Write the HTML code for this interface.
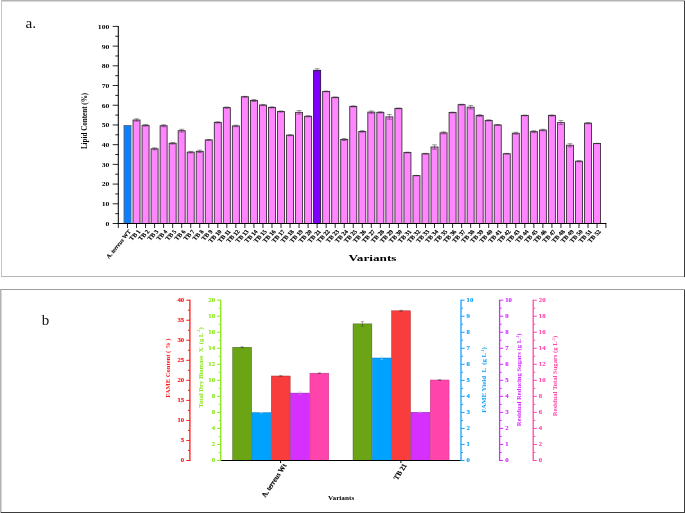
<!DOCTYPE html>
<html><head><meta charset="utf-8"><title>chart</title>
<style>html,body{margin:0;padding:0;background:#fff;}body{width:685px;height:513px;overflow:hidden;font-family:"Liberation Serif",serif;}svg{display:block;will-change:transform;}text{font-family:"Liberation Serif",serif;}</style>
</head><body>
<svg width="685" height="513" viewBox="0 0 685 513">
<rect x="0" y="0" width="685" height="513" fill="#ffffff"/>
<g shape-rendering="crispEdges">
<rect x="1" y="0" width="684" height="1.5" fill="#b2b2b2" shape-rendering="auto"/>
<rect x="1" y="0" width="1" height="277" fill="#c4c4c4"/>
<rect x="1" y="276" width="683" height="1" fill="#b4b4b4"/>
<rect x="684" y="1" width="1" height="276" fill="#3c3c3c"/>
<rect x="0" y="289" width="685" height="1" fill="#9c9c9c"/>
<rect x="0" y="289" width="1.5" height="224" fill="#b2b2b2" shape-rendering="auto"/>
<rect x="684" y="290" width="1" height="223" fill="#3c3c3c"/>
<rect x="1" y="512" width="684" height="1" fill="#3c3c3c"/>
</g>
<text x="25.5" y="28" font-size="15.2" fill="#111">a.</text>
<text x="41.7" y="325" font-size="15" fill="#111">b</text>
<g id="top">
<rect x="124.00" y="125.54" width="7.00" height="97.96" fill="#0a7fff" stroke="#5a6a7a" stroke-width="0.9"/>
<rect x="133.03" y="120.02" width="7.00" height="103.48" fill="#ff86ff" stroke="#3a2e3a" stroke-width="0.9"/>
<path d="M136.53 118.84V121.21M134.13 118.84H138.93M134.13 121.21H138.93" stroke="#333" stroke-width="0.5" fill="none"/>
<rect x="142.06" y="125.34" width="7.00" height="98.16" fill="#ff86ff" stroke="#3a2e3a" stroke-width="0.9"/>
<path d="M145.56 124.56V126.13M143.16 124.56H147.96M143.16 126.13H147.96" stroke="#333" stroke-width="0.5" fill="none"/>
<rect x="151.09" y="148.80" width="7.00" height="74.70" fill="#ff86ff" stroke="#3a2e3a" stroke-width="0.9"/>
<path d="M154.59 147.81V149.78M152.19 147.81H156.99M152.19 149.78H156.99" stroke="#333" stroke-width="0.5" fill="none"/>
<rect x="160.12" y="125.74" width="7.00" height="97.76" fill="#ff86ff" stroke="#3a2e3a" stroke-width="0.9"/>
<path d="M163.62 124.75V126.72M161.22 124.75H166.02M161.22 126.72H166.02" stroke="#333" stroke-width="0.5" fill="none"/>
<rect x="169.15" y="143.28" width="7.00" height="80.22" fill="#ff86ff" stroke="#3a2e3a" stroke-width="0.9"/>
<path d="M172.65 142.49V144.07M170.25 142.49H175.05M170.25 144.07H175.05" stroke="#333" stroke-width="0.5" fill="none"/>
<rect x="178.18" y="130.67" width="7.00" height="92.83" fill="#ff86ff" stroke="#3a2e3a" stroke-width="0.9"/>
<path d="M181.68 129.29V132.05M179.28 129.29H184.08M179.28 132.05H184.08" stroke="#333" stroke-width="0.5" fill="none"/>
<rect x="187.21" y="152.15" width="7.00" height="71.35" fill="#ff86ff" stroke="#3a2e3a" stroke-width="0.9"/>
<path d="M190.71 151.36V152.94M188.31 151.36H193.11M188.31 152.94H193.11" stroke="#333" stroke-width="0.5" fill="none"/>
<rect x="196.24" y="151.36" width="7.00" height="72.14" fill="#ff86ff" stroke="#3a2e3a" stroke-width="0.9"/>
<path d="M199.74 150.18V152.54M197.34 150.18H202.14M197.34 152.54H202.14" stroke="#333" stroke-width="0.5" fill="none"/>
<rect x="205.27" y="139.93" width="7.00" height="83.57" fill="#ff86ff" stroke="#3a2e3a" stroke-width="0.9"/>
<path d="M208.77 139.54V140.32M206.37 139.54H211.17M206.37 140.32H211.17" stroke="#333" stroke-width="0.5" fill="none"/>
<rect x="214.30" y="122.39" width="7.00" height="101.11" fill="#ff86ff" stroke="#3a2e3a" stroke-width="0.9"/>
<path d="M217.80 121.80V122.98M215.40 121.80H220.20M215.40 122.98H220.20" stroke="#333" stroke-width="0.5" fill="none"/>
<rect x="223.33" y="107.61" width="7.00" height="115.89" fill="#ff86ff" stroke="#3a2e3a" stroke-width="0.9"/>
<path d="M226.83 107.01V108.20M224.43 107.01H229.23M224.43 108.20H229.23" stroke="#333" stroke-width="0.5" fill="none"/>
<rect x="232.36" y="125.94" width="7.00" height="97.56" fill="#ff86ff" stroke="#3a2e3a" stroke-width="0.9"/>
<path d="M235.86 125.15V126.72M233.46 125.15H238.26M233.46 126.72H238.26" stroke="#333" stroke-width="0.5" fill="none"/>
<rect x="241.39" y="96.76" width="7.00" height="126.74" fill="#ff86ff" stroke="#3a2e3a" stroke-width="0.9"/>
<path d="M244.89 96.37V97.16M242.49 96.37H247.29M242.49 97.16H247.29" stroke="#333" stroke-width="0.5" fill="none"/>
<rect x="250.42" y="100.51" width="7.00" height="122.99" fill="#ff86ff" stroke="#3a2e3a" stroke-width="0.9"/>
<path d="M253.92 99.52V101.50M251.52 99.52H256.32M251.52 101.50H256.32" stroke="#333" stroke-width="0.5" fill="none"/>
<rect x="259.45" y="105.04" width="7.00" height="118.46" fill="#ff86ff" stroke="#3a2e3a" stroke-width="0.9"/>
<path d="M262.95 104.45V105.63M260.55 104.45H265.35M260.55 105.63H265.35" stroke="#333" stroke-width="0.5" fill="none"/>
<rect x="268.48" y="107.41" width="7.00" height="116.09" fill="#ff86ff" stroke="#3a2e3a" stroke-width="0.9"/>
<path d="M271.98 106.82V108.00M269.58 106.82H274.38M269.58 108.00H274.38" stroke="#333" stroke-width="0.5" fill="none"/>
<rect x="277.51" y="111.55" width="7.00" height="111.95" fill="#ff86ff" stroke="#3a2e3a" stroke-width="0.9"/>
<path d="M281.01 110.96V112.14M278.61 110.96H283.41M278.61 112.14H283.41" stroke="#333" stroke-width="0.5" fill="none"/>
<rect x="286.54" y="135.20" width="7.00" height="88.30" fill="#ff86ff" stroke="#3a2e3a" stroke-width="0.9"/>
<path d="M290.04 134.61V135.79M287.64 134.61H292.44M287.64 135.79H292.44" stroke="#333" stroke-width="0.5" fill="none"/>
<rect x="295.57" y="112.34" width="7.00" height="111.16" fill="#ff86ff" stroke="#3a2e3a" stroke-width="0.9"/>
<path d="M299.07 110.56V114.11M296.67 110.56H301.47M296.67 114.11H301.47" stroke="#333" stroke-width="0.5" fill="none"/>
<rect x="304.60" y="116.28" width="7.00" height="107.22" fill="#ff86ff" stroke="#3a2e3a" stroke-width="0.9"/>
<path d="M308.10 115.69V116.87M305.70 115.69H310.50M305.70 116.87H310.50" stroke="#333" stroke-width="0.5" fill="none"/>
<rect x="313.63" y="70.35" width="7.00" height="153.15" fill="#7f00ff" stroke="#2a1040" stroke-width="0.9"/>
<path d="M317.13 68.78V71.93M314.73 68.78H319.53M314.73 71.93H319.53" stroke="#333" stroke-width="0.5" fill="none"/>
<rect x="322.66" y="91.44" width="7.00" height="132.06" fill="#ff86ff" stroke="#3a2e3a" stroke-width="0.9"/>
<path d="M326.16 91.05V91.84M323.76 91.05H328.56M323.76 91.84H328.56" stroke="#333" stroke-width="0.5" fill="none"/>
<rect x="331.69" y="97.36" width="7.00" height="126.14" fill="#ff86ff" stroke="#3a2e3a" stroke-width="0.9"/>
<path d="M335.19 96.96V97.75M332.79 96.96H337.59M332.79 97.75H337.59" stroke="#333" stroke-width="0.5" fill="none"/>
<rect x="340.72" y="139.54" width="7.00" height="83.96" fill="#ff86ff" stroke="#3a2e3a" stroke-width="0.9"/>
<path d="M344.22 138.55V140.52M341.82 138.55H346.62M341.82 140.52H346.62" stroke="#333" stroke-width="0.5" fill="none"/>
<rect x="349.75" y="106.42" width="7.00" height="117.08" fill="#ff86ff" stroke="#3a2e3a" stroke-width="0.9"/>
<path d="M353.25 105.83V107.01M350.85 105.83H355.65M350.85 107.01H355.65" stroke="#333" stroke-width="0.5" fill="none"/>
<rect x="358.78" y="131.45" width="7.00" height="92.05" fill="#ff86ff" stroke="#3a2e3a" stroke-width="0.9"/>
<path d="M362.28 130.67V132.24M359.88 130.67H364.68M359.88 132.24H364.68" stroke="#333" stroke-width="0.5" fill="none"/>
<rect x="367.81" y="112.14" width="7.00" height="111.36" fill="#ff86ff" stroke="#3a2e3a" stroke-width="0.9"/>
<path d="M371.31 110.96V113.32M368.91 110.96H373.71M368.91 113.32H373.71" stroke="#333" stroke-width="0.5" fill="none"/>
<rect x="376.84" y="112.34" width="7.00" height="111.16" fill="#ff86ff" stroke="#3a2e3a" stroke-width="0.9"/>
<path d="M380.34 111.74V112.93M377.94 111.74H382.74M377.94 112.93H382.74" stroke="#333" stroke-width="0.5" fill="none"/>
<rect x="385.87" y="116.87" width="7.00" height="106.63" fill="#ff86ff" stroke="#3a2e3a" stroke-width="0.9"/>
<path d="M389.37 114.50V119.23M386.97 114.50H391.77M386.97 119.23H391.77" stroke="#333" stroke-width="0.5" fill="none"/>
<rect x="394.90" y="108.39" width="7.00" height="115.11" fill="#ff86ff" stroke="#3a2e3a" stroke-width="0.9"/>
<path d="M398.40 108.00V108.79M396.00 108.00H400.80M396.00 108.79H400.80" stroke="#333" stroke-width="0.5" fill="none"/>
<rect x="403.93" y="152.54" width="7.00" height="70.96" fill="#ff86ff" stroke="#3a2e3a" stroke-width="0.9"/>
<path d="M407.43 152.15V152.94M405.03 152.15H409.83M405.03 152.94H409.83" stroke="#333" stroke-width="0.5" fill="none"/>
<rect x="412.96" y="175.60" width="7.00" height="47.90" fill="#ff86ff" stroke="#3a2e3a" stroke-width="0.9"/>
<path d="M416.46 175.41V175.80M414.06 175.41H418.86M414.06 175.80H418.86" stroke="#333" stroke-width="0.5" fill="none"/>
<rect x="421.99" y="153.73" width="7.00" height="69.77" fill="#ff86ff" stroke="#3a2e3a" stroke-width="0.9"/>
<path d="M425.49 153.33V154.12M423.09 153.33H427.89M423.09 154.12H427.89" stroke="#333" stroke-width="0.5" fill="none"/>
<rect x="431.02" y="147.03" width="7.00" height="76.47" fill="#ff86ff" stroke="#3a2e3a" stroke-width="0.9"/>
<path d="M434.52 144.86V149.19M432.12 144.86H436.92M432.12 149.19H436.92" stroke="#333" stroke-width="0.5" fill="none"/>
<rect x="440.05" y="132.83" width="7.00" height="90.67" fill="#ff86ff" stroke="#3a2e3a" stroke-width="0.9"/>
<path d="M443.55 131.85V133.82M441.15 131.85H445.95M441.15 133.82H445.95" stroke="#333" stroke-width="0.5" fill="none"/>
<rect x="449.08" y="112.53" width="7.00" height="110.97" fill="#ff86ff" stroke="#3a2e3a" stroke-width="0.9"/>
<path d="M452.58 112.14V112.93M450.18 112.14H454.98M450.18 112.93H454.98" stroke="#333" stroke-width="0.5" fill="none"/>
<rect x="458.11" y="104.65" width="7.00" height="118.85" fill="#ff86ff" stroke="#3a2e3a" stroke-width="0.9"/>
<path d="M461.61 104.25V105.04M459.21 104.25H464.01M459.21 105.04H464.01" stroke="#333" stroke-width="0.5" fill="none"/>
<rect x="467.14" y="107.21" width="7.00" height="116.29" fill="#ff86ff" stroke="#3a2e3a" stroke-width="0.9"/>
<path d="M470.64 105.44V108.98M468.24 105.44H473.04M468.24 108.98H473.04" stroke="#333" stroke-width="0.5" fill="none"/>
<rect x="476.17" y="115.49" width="7.00" height="108.01" fill="#ff86ff" stroke="#3a2e3a" stroke-width="0.9"/>
<path d="M479.67 114.70V116.28M477.27 114.70H482.07M477.27 116.28H482.07" stroke="#333" stroke-width="0.5" fill="none"/>
<rect x="485.20" y="120.42" width="7.00" height="103.08" fill="#ff86ff" stroke="#3a2e3a" stroke-width="0.9"/>
<path d="M488.70 119.83V121.01M486.30 119.83H491.10M486.30 121.01H491.10" stroke="#333" stroke-width="0.5" fill="none"/>
<rect x="494.23" y="124.95" width="7.00" height="98.55" fill="#ff86ff" stroke="#3a2e3a" stroke-width="0.9"/>
<path d="M497.73 124.56V125.34M495.33 124.56H500.13M495.33 125.34H500.13" stroke="#333" stroke-width="0.5" fill="none"/>
<rect x="503.26" y="153.73" width="7.00" height="69.77" fill="#ff86ff" stroke="#3a2e3a" stroke-width="0.9"/>
<path d="M506.76 153.33V154.12M504.36 153.33H509.16M504.36 154.12H509.16" stroke="#333" stroke-width="0.5" fill="none"/>
<rect x="512.29" y="133.23" width="7.00" height="90.27" fill="#ff86ff" stroke="#3a2e3a" stroke-width="0.9"/>
<path d="M515.79 132.24V134.21M513.39 132.24H518.19M513.39 134.21H518.19" stroke="#333" stroke-width="0.5" fill="none"/>
<rect x="521.32" y="115.49" width="7.00" height="108.01" fill="#ff86ff" stroke="#3a2e3a" stroke-width="0.9"/>
<path d="M524.82 115.09V115.88M522.42 115.09H527.22M522.42 115.88H527.22" stroke="#333" stroke-width="0.5" fill="none"/>
<rect x="530.35" y="131.65" width="7.00" height="91.85" fill="#ff86ff" stroke="#3a2e3a" stroke-width="0.9"/>
<path d="M533.85 130.67V132.64M531.45 130.67H536.25M531.45 132.64H536.25" stroke="#333" stroke-width="0.5" fill="none"/>
<rect x="539.38" y="130.07" width="7.00" height="93.43" fill="#ff86ff" stroke="#3a2e3a" stroke-width="0.9"/>
<path d="M542.88 129.29V130.86M540.48 129.29H545.28M540.48 130.86H545.28" stroke="#333" stroke-width="0.5" fill="none"/>
<rect x="548.41" y="115.49" width="7.00" height="108.01" fill="#ff86ff" stroke="#3a2e3a" stroke-width="0.9"/>
<path d="M551.91 114.90V116.08M549.51 114.90H554.31M549.51 116.08H554.31" stroke="#333" stroke-width="0.5" fill="none"/>
<rect x="557.44" y="122.58" width="7.00" height="100.92" fill="#ff86ff" stroke="#3a2e3a" stroke-width="0.9"/>
<path d="M560.94 120.61V124.56M558.54 120.61H563.34M558.54 124.56H563.34" stroke="#333" stroke-width="0.5" fill="none"/>
<rect x="566.47" y="145.25" width="7.00" height="78.25" fill="#ff86ff" stroke="#3a2e3a" stroke-width="0.9"/>
<path d="M569.97 143.67V146.83M567.57 143.67H572.37M567.57 146.83H572.37" stroke="#333" stroke-width="0.5" fill="none"/>
<rect x="575.50" y="161.22" width="7.00" height="62.28" fill="#ff86ff" stroke="#3a2e3a" stroke-width="0.9"/>
<path d="M579.00 160.63V161.81M576.60 160.63H581.40M576.60 161.81H581.40" stroke="#333" stroke-width="0.5" fill="none"/>
<rect x="584.53" y="123.18" width="7.00" height="100.32" fill="#ff86ff" stroke="#3a2e3a" stroke-width="0.9"/>
<path d="M588.03 122.58V123.77M585.63 122.58H590.43M585.63 123.77H590.43" stroke="#333" stroke-width="0.5" fill="none"/>
<rect x="593.56" y="143.48" width="7.00" height="80.02" fill="#ff86ff" stroke="#3a2e3a" stroke-width="0.9"/>
<path d="M597.06 143.28V143.67M594.66 143.28H599.46M594.66 143.67H599.46" stroke="#333" stroke-width="0.5" fill="none"/>
<g stroke="#000" stroke-width="1.05" fill="none">
<path d="M118.30 25.90V224.10"/>
<path d="M117.70 223.50H606.40"/>
</g>
<g stroke="#000" stroke-width="0.85" fill="none">
<path d="M112.70 223.50H118.30"/>
<path d="M115.30 213.65H118.30"/>
<path d="M112.70 203.79H118.30"/>
<path d="M115.30 193.94H118.30"/>
<path d="M112.70 184.08H118.30"/>
<path d="M115.30 174.22H118.30"/>
<path d="M112.70 164.37H118.30"/>
<path d="M115.30 154.51H118.30"/>
<path d="M112.70 144.66H118.30"/>
<path d="M115.30 134.81H118.30"/>
<path d="M112.70 124.95H118.30"/>
<path d="M115.30 115.09H118.30"/>
<path d="M112.70 105.24H118.30"/>
<path d="M115.30 95.38H118.30"/>
<path d="M112.70 85.53H118.30"/>
<path d="M115.30 75.67H118.30"/>
<path d="M112.70 65.82H118.30"/>
<path d="M115.30 55.97H118.30"/>
<path d="M112.70 46.11H118.30"/>
<path d="M115.30 36.25H118.30"/>
<path d="M112.70 26.40H118.30"/>
<path d="M118.30 223.50V228.00"/>
<path d="M127.50 223.50V228.00"/>
<path d="M136.53 223.50V228.00"/>
<path d="M145.56 223.50V228.00"/>
<path d="M154.59 223.50V228.00"/>
<path d="M163.62 223.50V228.00"/>
<path d="M172.65 223.50V228.00"/>
<path d="M181.68 223.50V228.00"/>
<path d="M190.71 223.50V228.00"/>
<path d="M199.74 223.50V228.00"/>
<path d="M208.77 223.50V228.00"/>
<path d="M217.80 223.50V228.00"/>
<path d="M226.83 223.50V228.00"/>
<path d="M235.86 223.50V228.00"/>
<path d="M244.89 223.50V228.00"/>
<path d="M253.92 223.50V228.00"/>
<path d="M262.95 223.50V228.00"/>
<path d="M271.98 223.50V228.00"/>
<path d="M281.01 223.50V228.00"/>
<path d="M290.04 223.50V228.00"/>
<path d="M299.07 223.50V228.00"/>
<path d="M308.10 223.50V228.00"/>
<path d="M317.13 223.50V228.00"/>
<path d="M326.16 223.50V228.00"/>
<path d="M335.19 223.50V228.00"/>
<path d="M344.22 223.50V228.00"/>
<path d="M353.25 223.50V228.00"/>
<path d="M362.28 223.50V228.00"/>
<path d="M371.31 223.50V228.00"/>
<path d="M380.34 223.50V228.00"/>
<path d="M389.37 223.50V228.00"/>
<path d="M398.40 223.50V228.00"/>
<path d="M407.43 223.50V228.00"/>
<path d="M416.46 223.50V228.00"/>
<path d="M425.49 223.50V228.00"/>
<path d="M434.52 223.50V228.00"/>
<path d="M443.55 223.50V228.00"/>
<path d="M452.58 223.50V228.00"/>
<path d="M461.61 223.50V228.00"/>
<path d="M470.64 223.50V228.00"/>
<path d="M479.67 223.50V228.00"/>
<path d="M488.70 223.50V228.00"/>
<path d="M497.73 223.50V228.00"/>
<path d="M506.76 223.50V228.00"/>
<path d="M515.79 223.50V228.00"/>
<path d="M524.82 223.50V228.00"/>
<path d="M533.85 223.50V228.00"/>
<path d="M542.88 223.50V228.00"/>
<path d="M551.91 223.50V228.00"/>
<path d="M560.94 223.50V228.00"/>
<path d="M569.97 223.50V228.00"/>
<path d="M579.00 223.50V228.00"/>
<path d="M588.03 223.50V228.00"/>
<path d="M597.06 223.50V228.00"/>
<path d="M605.90 223.50V228.00"/>
</g>
<g font-size="7" font-weight="bold" fill="#000" text-anchor="end">
<text transform="translate(109.4 225.90) scale(1.1 1)">0</text>
<text transform="translate(109.4 206.19) scale(1.1 1)">10</text>
<text transform="translate(109.4 186.48) scale(1.1 1)">20</text>
<text transform="translate(109.4 166.77) scale(1.1 1)">30</text>
<text transform="translate(109.4 147.06) scale(1.1 1)">40</text>
<text transform="translate(109.4 127.35) scale(1.1 1)">50</text>
<text transform="translate(109.4 107.64) scale(1.1 1)">60</text>
<text transform="translate(109.4 87.93) scale(1.1 1)">70</text>
<text transform="translate(109.4 68.22) scale(1.1 1)">80</text>
<text transform="translate(109.4 48.51) scale(1.1 1)">90</text>
<text transform="translate(109.4 28.80) scale(1.1 1)">100</text>
</g>
<text transform="translate(87.3 121) scale(1.12 1) rotate(-90)" font-size="7.1" font-weight="bold" text-anchor="middle" fill="#000">Lipid Content (%)</text>
<g font-size="5.4" font-weight="bold" fill="#000" stroke="#000" stroke-width="0.12" text-anchor="end">
<text transform="translate(131.10 231.70) rotate(-51)" font-size="5.85">A. <tspan font-style="italic">terreus</tspan> WT</text>
<text transform="translate(140.83 231.70) scale(1.15 1) rotate(-50)" font-size="5.7">TB 1</text>
<text transform="translate(149.86 231.70) scale(1.15 1) rotate(-50)" font-size="5.7">TB 2</text>
<text transform="translate(158.89 231.70) scale(1.15 1) rotate(-50)" font-size="5.7">TB 3</text>
<text transform="translate(167.92 231.70) scale(1.15 1) rotate(-50)" font-size="5.7">TB 4</text>
<text transform="translate(176.95 231.70) scale(1.15 1) rotate(-50)" font-size="5.7">TB 5</text>
<text transform="translate(185.98 231.70) scale(1.15 1) rotate(-50)" font-size="5.7">TB 6</text>
<text transform="translate(195.01 231.70) scale(1.15 1) rotate(-50)" font-size="5.7">TB 7</text>
<text transform="translate(204.04 231.70) scale(1.15 1) rotate(-50)" font-size="5.7">TB 8</text>
<text transform="translate(213.07 231.70) scale(1.15 1) rotate(-50)" font-size="5.7">TB 9</text>
<text transform="translate(222.10 231.70) scale(1.15 1) rotate(-50)" font-size="5.7">TB 10</text>
<text transform="translate(231.13 231.70) scale(1.15 1) rotate(-50)" font-size="5.7">TB 11</text>
<text transform="translate(240.16 231.70) scale(1.15 1) rotate(-50)" font-size="5.7">TB 12</text>
<text transform="translate(249.19 231.70) scale(1.15 1) rotate(-50)" font-size="5.7">TB 13</text>
<text transform="translate(258.22 231.70) scale(1.15 1) rotate(-50)" font-size="5.7">TB 14</text>
<text transform="translate(267.25 231.70) scale(1.15 1) rotate(-50)" font-size="5.7">TB 15</text>
<text transform="translate(276.28 231.70) scale(1.15 1) rotate(-50)" font-size="5.7">TB 16</text>
<text transform="translate(285.31 231.70) scale(1.15 1) rotate(-50)" font-size="5.7">TB 17</text>
<text transform="translate(294.34 231.70) scale(1.15 1) rotate(-50)" font-size="5.7">TB 18</text>
<text transform="translate(303.37 231.70) scale(1.15 1) rotate(-50)" font-size="5.7">TB 19</text>
<text transform="translate(312.40 231.70) scale(1.15 1) rotate(-50)" font-size="5.7">TB 20</text>
<text transform="translate(321.43 231.70) scale(1.15 1) rotate(-50)" font-size="5.7">TB 21</text>
<text transform="translate(330.46 231.70) scale(1.15 1) rotate(-50)" font-size="5.7">TB 22</text>
<text transform="translate(339.49 231.70) scale(1.15 1) rotate(-50)" font-size="5.7">TB 23</text>
<text transform="translate(348.52 231.70) scale(1.15 1) rotate(-50)" font-size="5.7">TB 24</text>
<text transform="translate(357.55 231.70) scale(1.15 1) rotate(-50)" font-size="5.7">TB 25</text>
<text transform="translate(366.58 231.70) scale(1.15 1) rotate(-50)" font-size="5.7">TB 26</text>
<text transform="translate(375.61 231.70) scale(1.15 1) rotate(-50)" font-size="5.7">TB 27</text>
<text transform="translate(384.64 231.70) scale(1.15 1) rotate(-50)" font-size="5.7">TB 28</text>
<text transform="translate(393.67 231.70) scale(1.15 1) rotate(-50)" font-size="5.7">TB 29</text>
<text transform="translate(402.70 231.70) scale(1.15 1) rotate(-50)" font-size="5.7">TB 30</text>
<text transform="translate(411.73 231.70) scale(1.15 1) rotate(-50)" font-size="5.7">TB 31</text>
<text transform="translate(420.76 231.70) scale(1.15 1) rotate(-50)" font-size="5.7">TB 32</text>
<text transform="translate(429.79 231.70) scale(1.15 1) rotate(-50)" font-size="5.7">TB 33</text>
<text transform="translate(438.82 231.70) scale(1.15 1) rotate(-50)" font-size="5.7">TB 34</text>
<text transform="translate(447.85 231.70) scale(1.15 1) rotate(-50)" font-size="5.7">TB 35</text>
<text transform="translate(456.88 231.70) scale(1.15 1) rotate(-50)" font-size="5.7">TB 36</text>
<text transform="translate(465.91 231.70) scale(1.15 1) rotate(-50)" font-size="5.7">TB 37</text>
<text transform="translate(474.94 231.70) scale(1.15 1) rotate(-50)" font-size="5.7">TB 38</text>
<text transform="translate(483.97 231.70) scale(1.15 1) rotate(-50)" font-size="5.7">TB 39</text>
<text transform="translate(493.00 231.70) scale(1.15 1) rotate(-50)" font-size="5.7">TB 40</text>
<text transform="translate(502.03 231.70) scale(1.15 1) rotate(-50)" font-size="5.7">TB 41</text>
<text transform="translate(511.06 231.70) scale(1.15 1) rotate(-50)" font-size="5.7">TB 42</text>
<text transform="translate(520.09 231.70) scale(1.15 1) rotate(-50)" font-size="5.7">TB 43</text>
<text transform="translate(529.12 231.70) scale(1.15 1) rotate(-50)" font-size="5.7">TB 44</text>
<text transform="translate(538.15 231.70) scale(1.15 1) rotate(-50)" font-size="5.7">TB 45</text>
<text transform="translate(547.18 231.70) scale(1.15 1) rotate(-50)" font-size="5.7">TB 46</text>
<text transform="translate(556.21 231.70) scale(1.15 1) rotate(-50)" font-size="5.7">TB 47</text>
<text transform="translate(565.24 231.70) scale(1.15 1) rotate(-50)" font-size="5.7">TB 48</text>
<text transform="translate(574.27 231.70) scale(1.15 1) rotate(-50)" font-size="5.7">TB 49</text>
<text transform="translate(583.30 231.70) scale(1.15 1) rotate(-50)" font-size="5.7">TB 50</text>
<text transform="translate(592.33 231.70) scale(1.15 1) rotate(-50)" font-size="5.7">TB 51</text>
<text transform="translate(601.36 231.70) scale(1.15 1) rotate(-50)" font-size="5.7">TB 52</text>
</g>
<text x="348.5" y="260.5" font-size="8.9" font-weight="bold" fill="#000" textLength="48" lengthAdjust="spacingAndGlyphs">Variants</text>
</g>
<g id="bottom">
<rect x="232.75" y="347.30" width="18.80" height="113.20" fill="#6ba516" stroke="#3e5e10" stroke-width="0.5"/>
<path d="M242.15 346.80V347.80M240.55 346.80H243.75M240.55 347.80H243.75" stroke="#333" stroke-width="0.4" fill="none"/>
<rect x="252.05" y="412.70" width="18.80" height="47.80" fill="#00a2ff" stroke="#0a78c0" stroke-width="0.5"/>
<path d="M261.45 412.50V412.90M259.85 412.50H263.05M259.85 412.90H263.05" stroke="#b5dcf5" stroke-width="0.4" fill="none"/>
<rect x="271.35" y="376.00" width="18.80" height="84.50" fill="#f93c3c" stroke="#a82828" stroke-width="0.5"/>
<path d="M280.75 375.70V376.30M279.15 375.70H282.35M279.15 376.30H282.35" stroke="#333" stroke-width="0.4" fill="none"/>
<rect x="290.65" y="393.10" width="18.80" height="67.40" fill="#d630ff" stroke="#8a22a8" stroke-width="0.5"/>
<path d="M300.05 391.90V394.30M298.45 391.90H301.65M298.45 394.30H301.65" stroke="#c9a0d8" stroke-width="0.4" fill="none"/>
<rect x="309.95" y="373.20" width="18.80" height="87.30" fill="#ff45ac" stroke="#c03080" stroke-width="0.5"/>
<path d="M319.35 372.90V373.50M317.75 372.90H320.95M317.75 373.50H320.95" stroke="#333" stroke-width="0.4" fill="none"/>
<rect x="353.05" y="323.90" width="18.80" height="136.60" fill="#6ba516" stroke="#3e5e10" stroke-width="0.5"/>
<path d="M362.45 321.60V326.20M360.85 321.60H364.05M360.85 326.20H364.05" stroke="#333" stroke-width="0.4" fill="none"/>
<rect x="372.35" y="358.00" width="18.80" height="102.50" fill="#00a2ff" stroke="#0a78c0" stroke-width="0.5"/>
<path d="M381.75 356.40V359.60M380.15 356.40H383.35M380.15 359.60H383.35" stroke="#b5dcf5" stroke-width="0.4" fill="none"/>
<rect x="391.65" y="310.80" width="18.80" height="149.70" fill="#f93c3c" stroke="#a82828" stroke-width="0.5"/>
<path d="M401.05 310.30V311.30M399.45 310.30H402.65M399.45 311.30H402.65" stroke="#333" stroke-width="0.4" fill="none"/>
<rect x="410.95" y="412.30" width="18.80" height="48.20" fill="#d630ff" stroke="#8a22a8" stroke-width="0.5"/>
<path d="M420.35 412.00V412.60M418.75 412.00H421.95M418.75 412.60H421.95" stroke="#c9a0d8" stroke-width="0.4" fill="none"/>
<rect x="430.25" y="380.00" width="18.80" height="80.50" fill="#ff45ac" stroke="#c03080" stroke-width="0.5"/>
<path d="M439.65 379.80V380.20M438.05 379.80H441.25M438.05 380.20H441.25" stroke="#333" stroke-width="0.4" fill="none"/>
<path d="M220.2 460.50H461.6" stroke="#000" stroke-width="1.1" fill="none"/>
<path d="M280.6 460.50V463.10M400.9 460.50V463.10" stroke="#000" stroke-width="1" fill="none"/>
<g stroke="#ff1a1a" fill="none">
<path d="M189.90 299.70V461.00" stroke-width="1.3"/>
<path d="M189.90 460.50H186.30" stroke-width="1"/>
<path d="M189.90 450.48H187.90" stroke-width="1"/>
<path d="M189.90 440.46H186.30" stroke-width="1"/>
<path d="M189.90 430.44H187.90" stroke-width="1"/>
<path d="M189.90 420.43H186.30" stroke-width="1"/>
<path d="M189.90 410.41H187.90" stroke-width="1"/>
<path d="M189.90 400.39H186.30" stroke-width="1"/>
<path d="M189.90 390.37H187.90" stroke-width="1"/>
<path d="M189.90 380.35H186.30" stroke-width="1"/>
<path d="M189.90 370.33H187.90" stroke-width="1"/>
<path d="M189.90 360.31H186.30" stroke-width="1"/>
<path d="M189.90 350.29H187.90" stroke-width="1"/>
<path d="M189.90 340.27H186.30" stroke-width="1"/>
<path d="M189.90 330.26H187.90" stroke-width="1"/>
<path d="M189.90 320.24H186.30" stroke-width="1"/>
<path d="M189.90 310.22H187.90" stroke-width="1"/>
<path d="M189.90 300.20H186.30" stroke-width="1"/>
</g>
<g font-size="6.7" font-weight="bold" fill="#ff1a1a" stroke="#ff1a1a" stroke-width="0.15" text-anchor="end">
<text x="184.20" y="462.30">0</text>
<text x="184.20" y="442.26">5</text>
<text x="184.20" y="422.23">10</text>
<text x="184.20" y="402.19">15</text>
<text x="184.20" y="382.15">20</text>
<text x="184.20" y="362.11">25</text>
<text x="184.20" y="342.07">30</text>
<text x="184.20" y="322.04">35</text>
<text x="184.20" y="302.00">40</text>
</g>
<g stroke="#8be61a" fill="none">
<path d="M220.70 299.70V461.00" stroke-width="1.3"/>
<path d="M220.70 460.50H217.10" stroke-width="1"/>
<path d="M220.70 452.49H218.70" stroke-width="1"/>
<path d="M220.70 444.47H217.10" stroke-width="1"/>
<path d="M220.70 436.45H218.70" stroke-width="1"/>
<path d="M220.70 428.44H217.10" stroke-width="1"/>
<path d="M220.70 420.43H218.70" stroke-width="1"/>
<path d="M220.70 412.41H217.10" stroke-width="1"/>
<path d="M220.70 404.39H218.70" stroke-width="1"/>
<path d="M220.70 396.38H217.10" stroke-width="1"/>
<path d="M220.70 388.37H218.70" stroke-width="1"/>
<path d="M220.70 380.35H217.10" stroke-width="1"/>
<path d="M220.70 372.33H218.70" stroke-width="1"/>
<path d="M220.70 364.32H217.10" stroke-width="1"/>
<path d="M220.70 356.31H218.70" stroke-width="1"/>
<path d="M220.70 348.29H217.10" stroke-width="1"/>
<path d="M220.70 340.27H218.70" stroke-width="1"/>
<path d="M220.70 332.26H217.10" stroke-width="1"/>
<path d="M220.70 324.25H218.70" stroke-width="1"/>
<path d="M220.70 316.23H217.10" stroke-width="1"/>
<path d="M220.70 308.21H218.70" stroke-width="1"/>
<path d="M220.70 300.20H217.10" stroke-width="1"/>
</g>
<g font-size="6.7" font-weight="bold" fill="#8be61a" stroke="#8be61a" stroke-width="0.15" text-anchor="end">
<text x="215.00" y="462.30">0</text>
<text x="215.00" y="446.27">2</text>
<text x="215.00" y="430.24">4</text>
<text x="215.00" y="414.21">6</text>
<text x="215.00" y="398.18">8</text>
<text x="215.00" y="382.15">10</text>
<text x="215.00" y="366.12">12</text>
<text x="215.00" y="350.09">14</text>
<text x="215.00" y="334.06">16</text>
<text x="215.00" y="318.03">18</text>
<text x="215.00" y="302.00">20</text>
</g>
<g stroke="#14a0ff" fill="none">
<path d="M461.00 299.70V461.00" stroke-width="1.3"/>
<path d="M461.00 460.50H464.60" stroke-width="1"/>
<path d="M461.00 452.49H463.00" stroke-width="1"/>
<path d="M461.00 444.47H464.60" stroke-width="1"/>
<path d="M461.00 436.45H463.00" stroke-width="1"/>
<path d="M461.00 428.44H464.60" stroke-width="1"/>
<path d="M461.00 420.43H463.00" stroke-width="1"/>
<path d="M461.00 412.41H464.60" stroke-width="1"/>
<path d="M461.00 404.39H463.00" stroke-width="1"/>
<path d="M461.00 396.38H464.60" stroke-width="1"/>
<path d="M461.00 388.37H463.00" stroke-width="1"/>
<path d="M461.00 380.35H464.60" stroke-width="1"/>
<path d="M461.00 372.33H463.00" stroke-width="1"/>
<path d="M461.00 364.32H464.60" stroke-width="1"/>
<path d="M461.00 356.31H463.00" stroke-width="1"/>
<path d="M461.00 348.29H464.60" stroke-width="1"/>
<path d="M461.00 340.27H463.00" stroke-width="1"/>
<path d="M461.00 332.26H464.60" stroke-width="1"/>
<path d="M461.00 324.25H463.00" stroke-width="1"/>
<path d="M461.00 316.23H464.60" stroke-width="1"/>
<path d="M461.00 308.21H463.00" stroke-width="1"/>
<path d="M461.00 300.20H464.60" stroke-width="1"/>
</g>
<g font-size="6.7" font-weight="bold" fill="#14a0ff" stroke="#14a0ff" stroke-width="0.15" text-anchor="start">
<text x="466.60" y="462.30">0</text>
<text x="466.60" y="446.27">1</text>
<text x="466.60" y="430.24">2</text>
<text x="466.60" y="414.21">3</text>
<text x="466.60" y="398.18">4</text>
<text x="466.60" y="382.15">5</text>
<text x="466.60" y="366.12">6</text>
<text x="466.60" y="350.09">7</text>
<text x="466.60" y="334.06">8</text>
<text x="466.60" y="318.03">9</text>
<text x="466.60" y="302.00">10</text>
</g>
<g stroke="#d42cff" fill="none">
<path d="M499.60 299.70V461.00" stroke-width="1.3"/>
<path d="M499.60 460.50H503.20" stroke-width="1"/>
<path d="M499.60 452.49H501.60" stroke-width="1"/>
<path d="M499.60 444.47H503.20" stroke-width="1"/>
<path d="M499.60 436.45H501.60" stroke-width="1"/>
<path d="M499.60 428.44H503.20" stroke-width="1"/>
<path d="M499.60 420.43H501.60" stroke-width="1"/>
<path d="M499.60 412.41H503.20" stroke-width="1"/>
<path d="M499.60 404.39H501.60" stroke-width="1"/>
<path d="M499.60 396.38H503.20" stroke-width="1"/>
<path d="M499.60 388.37H501.60" stroke-width="1"/>
<path d="M499.60 380.35H503.20" stroke-width="1"/>
<path d="M499.60 372.33H501.60" stroke-width="1"/>
<path d="M499.60 364.32H503.20" stroke-width="1"/>
<path d="M499.60 356.31H501.60" stroke-width="1"/>
<path d="M499.60 348.29H503.20" stroke-width="1"/>
<path d="M499.60 340.27H501.60" stroke-width="1"/>
<path d="M499.60 332.26H503.20" stroke-width="1"/>
<path d="M499.60 324.25H501.60" stroke-width="1"/>
<path d="M499.60 316.23H503.20" stroke-width="1"/>
<path d="M499.60 308.21H501.60" stroke-width="1"/>
<path d="M499.60 300.20H503.20" stroke-width="1"/>
</g>
<g font-size="6.7" font-weight="bold" fill="#d42cff" stroke="#d42cff" stroke-width="0.15" text-anchor="start">
<text x="505.20" y="462.30">0</text>
<text x="505.20" y="446.27">1</text>
<text x="505.20" y="430.24">2</text>
<text x="505.20" y="414.21">3</text>
<text x="505.20" y="398.18">4</text>
<text x="505.20" y="382.15">5</text>
<text x="505.20" y="366.12">6</text>
<text x="505.20" y="350.09">7</text>
<text x="505.20" y="334.06">8</text>
<text x="505.20" y="318.03">9</text>
<text x="505.20" y="302.00">10</text>
</g>
<g stroke="#ff4aa8" fill="none">
<path d="M533.20 299.70V461.00" stroke-width="1.3"/>
<path d="M533.20 460.50H536.80" stroke-width="1"/>
<path d="M533.20 452.49H535.20" stroke-width="1"/>
<path d="M533.20 444.47H536.80" stroke-width="1"/>
<path d="M533.20 436.45H535.20" stroke-width="1"/>
<path d="M533.20 428.44H536.80" stroke-width="1"/>
<path d="M533.20 420.43H535.20" stroke-width="1"/>
<path d="M533.20 412.41H536.80" stroke-width="1"/>
<path d="M533.20 404.39H535.20" stroke-width="1"/>
<path d="M533.20 396.38H536.80" stroke-width="1"/>
<path d="M533.20 388.37H535.20" stroke-width="1"/>
<path d="M533.20 380.35H536.80" stroke-width="1"/>
<path d="M533.20 372.33H535.20" stroke-width="1"/>
<path d="M533.20 364.32H536.80" stroke-width="1"/>
<path d="M533.20 356.31H535.20" stroke-width="1"/>
<path d="M533.20 348.29H536.80" stroke-width="1"/>
<path d="M533.20 340.27H535.20" stroke-width="1"/>
<path d="M533.20 332.26H536.80" stroke-width="1"/>
<path d="M533.20 324.25H535.20" stroke-width="1"/>
<path d="M533.20 316.23H536.80" stroke-width="1"/>
<path d="M533.20 308.21H535.20" stroke-width="1"/>
<path d="M533.20 300.20H536.80" stroke-width="1"/>
</g>
<g font-size="6.7" font-weight="bold" fill="#ff4aa8" stroke="#ff4aa8" stroke-width="0.15" text-anchor="start">
<text x="538.80" y="462.30">0</text>
<text x="538.80" y="446.27">2</text>
<text x="538.80" y="430.24">4</text>
<text x="538.80" y="414.21">6</text>
<text x="538.80" y="398.18">8</text>
<text x="538.80" y="382.15">10</text>
<text x="538.80" y="366.12">12</text>
<text x="538.80" y="350.09">14</text>
<text x="538.80" y="334.06">16</text>
<text x="538.80" y="318.03">18</text>
<text x="538.80" y="302.00">20</text>
</g>
<text transform="translate(170.40 368.20) rotate(-90)" font-size="6.60" font-weight="bold" text-anchor="middle" fill="#ff1a1a" xml:space="preserve">FAME Content ( % )</text>
<text transform="translate(202.60 367.50) rotate(-90)" font-size="6.60" font-weight="bold" text-anchor="middle" fill="#8be61a" xml:space="preserve">Total Dry Biomass  X  (g L<tspan font-size="4" dy="-2.4">-1</tspan><tspan dy="2.4">)</tspan></text>
<text transform="translate(486.20 379.90) rotate(-90)" font-size="6.90" font-weight="bold" text-anchor="middle" fill="#14a0ff" xml:space="preserve">FAME Yield  L  (g L<tspan font-size="4" dy="-2.4">-1</tspan><tspan dy="2.4">)</tspan></text>
<text transform="translate(521.40 379.80) rotate(-90)" font-size="6.60" font-weight="bold" text-anchor="middle" fill="#d42cff" xml:space="preserve">Residual Reducing Sugars (g L<tspan font-size="4" dy="-2.4">-1</tspan><tspan dy="2.4">)</tspan></text>
<text transform="translate(557.20 376.00) rotate(-90)" font-size="6.60" font-weight="bold" text-anchor="middle" fill="#ff4aa8" xml:space="preserve">Residual Total Sugars (g L<tspan font-size="4" dy="-2.4">-1</tspan><tspan dy="2.4">)</tspan></text>
<g font-size="6.6" font-weight="bold" fill="#000" stroke="#000" stroke-width="0.12" text-anchor="end">
<text transform="translate(287.0 465.4) scale(1.15 1) rotate(-60)">A. <tspan font-style="italic">terreus</tspan> Wt</text>
<text transform="translate(407.2 465.4) scale(1.15 1) rotate(-60)">TB 21</text>
</g>
<text x="328" y="499.5" font-size="6" font-weight="bold" fill="#000" textLength="26.2" lengthAdjust="spacingAndGlyphs">Variants</text>
</g>
</svg>
</body></html>
